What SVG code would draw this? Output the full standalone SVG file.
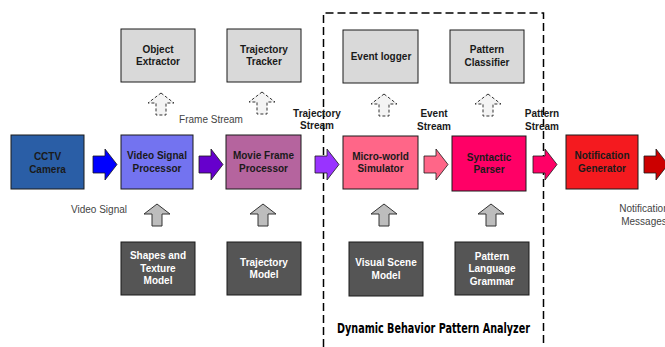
<svg xmlns="http://www.w3.org/2000/svg" width="665" height="347" viewBox="0 0 665 347">
<style>
text{font-family:"Liberation Sans",Arial,sans-serif;font-size:10px;text-anchor:middle}
.b{font-weight:bold;fill:#1a1a1a}
.w{font-weight:bold;fill:#ffffff}
.r{fill:#444444}
.box{stroke:#1a1a1a;stroke-width:1}
.lt{fill:#d9d9d9}
.dk{fill:#555555}
.ar{stroke:#1a1a1a;stroke-width:0.8}
.up1{fill:#f4f4f4;stroke:#333;stroke-width:1;stroke-dasharray:3,2}
.up2{fill:#bdbdbd;stroke:#333;stroke-width:1}
.title{font-family:"DejaVu Sans Condensed","Liberation Sans Narrow","Liberation Sans",sans-serif;font-weight:bold;font-size:14.5px;fill:#000}
</style>
<defs>
<path id="rarr" d="M0,-8.5 H12 V-15.5 L24,0 L12,15.5 V8.5 H0 Z"/>
<path id="uarr" d="M0,0 L13,10 H5 V22 H-5 V10 H-13 Z"/>
</defs>

<path d="M323.5,347 V13 H543.5 V347" fill="none" stroke="#000" stroke-width="1.5" stroke-dasharray="8,4"/>
<text class="title" x="433.5" y="333" textLength="193" lengthAdjust="spacingAndGlyphs">Dynamic Behavior Pattern Analyzer</text>

<g id="connectors">
<use href="#rarr" x="93" y="164.5" fill="#0000ff" class="ar"/>
<use href="#rarr" x="199" y="164.5" fill="#6600cc" class="ar"/>
<use href="#rarr" x="315" y="164.5" fill="#9933ff" class="ar"/>
<use href="#rarr" x="424" y="164.5" fill="#ff6688" class="ar"/>
<use href="#rarr" x="533" y="164.5" fill="#ff0066" class="ar"/>
<use href="#rarr" x="644" y="164.5" fill="#cc0000" class="ar"/>
<use href="#uarr" x="161" y="93" class="up1"/>
<use href="#uarr" x="262" y="92" class="up1"/>
<use href="#uarr" x="384" y="94" class="up1"/>
<use href="#uarr" x="488" y="94" class="up1"/>
<use href="#uarr" x="157" y="204" class="up2"/>
<use href="#uarr" x="263" y="204" class="up2"/>
<use href="#uarr" x="384" y="204" class="up2"/>
<use href="#uarr" x="491" y="204" class="up2"/>
<text class="r" x="211" y="123">Frame Stream</text>
<text class="r" x="99" y="213">Video Signal</text>
<text class="b" x="317" y="117">Trajectory</text>
<text class="b" x="317" y="129">Stream</text>
<text class="b" x="434" y="117">Event</text>
<text class="b" x="434" y="130">Stream</text>
<text class="b" x="542" y="117">Pattern</text>
<text class="b" x="542" y="130">Stream</text>
<text class="r" x="644" y="212">Notification</text>
<text class="r" x="644" y="225">Messages</text>
</g>

<g id="object-extractor"><rect class="box lt" x="121" y="29" width="74" height="53"/><text class="b" x="158" y="53">Object</text><text class="b" x="158" y="65">Extractor</text></g>
<g id="trajectory-tracker"><rect class="box lt" x="227" y="29" width="74" height="53"/><text class="b" x="264" y="53">Trajectory</text><text class="b" x="264" y="65">Tracker</text></g>
<g id="event-logger"><rect class="box lt" x="343" y="30" width="75" height="53"/><text class="b" x="381" y="60">Event logger</text></g>
<g id="pattern-classifier"><rect class="box lt" x="450" y="30" width="74" height="53"/><text class="b" x="487" y="53">Pattern</text><text class="b" x="487" y="66">Classifier</text></g>

<g id="cctv-camera"><rect class="box" fill="#2a5ea6" x="11" y="135" width="73" height="54"/><text class="b" x="47.5" y="160">CCTV</text><text class="b" x="47.5" y="173">Camera</text></g>
<g id="video-signal-processor"><rect class="box" fill="#7373f0" x="121" y="135" width="72" height="54"/><text class="b" x="157" y="159">Video Signal</text><text class="b" x="157" y="172">Processor</text></g>
<g id="movie-frame-processor"><rect class="box" fill="#b5649e" x="226" y="135" width="75" height="54"/><text class="b" x="263.5" y="159">Movie Frame</text><text class="b" x="263.5" y="172">Processor</text></g>
<g id="micro-world-simulator"><rect class="box" fill="#ff6688" x="343" y="136" width="75" height="53"/><text class="b" x="380.5" y="160">Micro-world</text><text class="b" x="380.5" y="172">Simulator</text></g>
<g id="syntactic-parser"><rect class="box" fill="#ff0066" x="452" y="136" width="74" height="55"/><text class="b" x="489" y="161">Syntactic</text><text class="b" x="489" y="173">Parser</text></g>
<g id="notification-generator"><rect class="box" fill="#f41a1f" x="566" y="135" width="72" height="54"/><text class="b" x="602" y="159">Notification</text><text class="b" x="602" y="172">Generator</text></g>

<g id="shapes-texture-model"><rect class="box dk" x="121" y="242" width="74" height="53"/><text class="w" x="158" y="259">Shapes and</text><text class="w" x="158" y="272">Texture</text><text class="w" x="158" y="284">Model</text></g>
<g id="trajectory-model"><rect class="box dk" x="227" y="242" width="74" height="53"/><text class="w" x="264" y="266">Trajectory</text><text class="w" x="264" y="278">Model</text></g>
<g id="visual-scene-model"><rect class="box dk" x="349" y="242" width="74" height="54"/><text class="w" x="386" y="266">Visual Scene</text><text class="w" x="386" y="279">Model</text></g>
<g id="pattern-language-grammar"><rect class="box dk" x="455" y="242" width="74" height="53"/><text class="w" x="492" y="260">Pattern</text><text class="w" x="492" y="272">Language</text><text class="w" x="492" y="285">Grammar</text></g>
</svg>
